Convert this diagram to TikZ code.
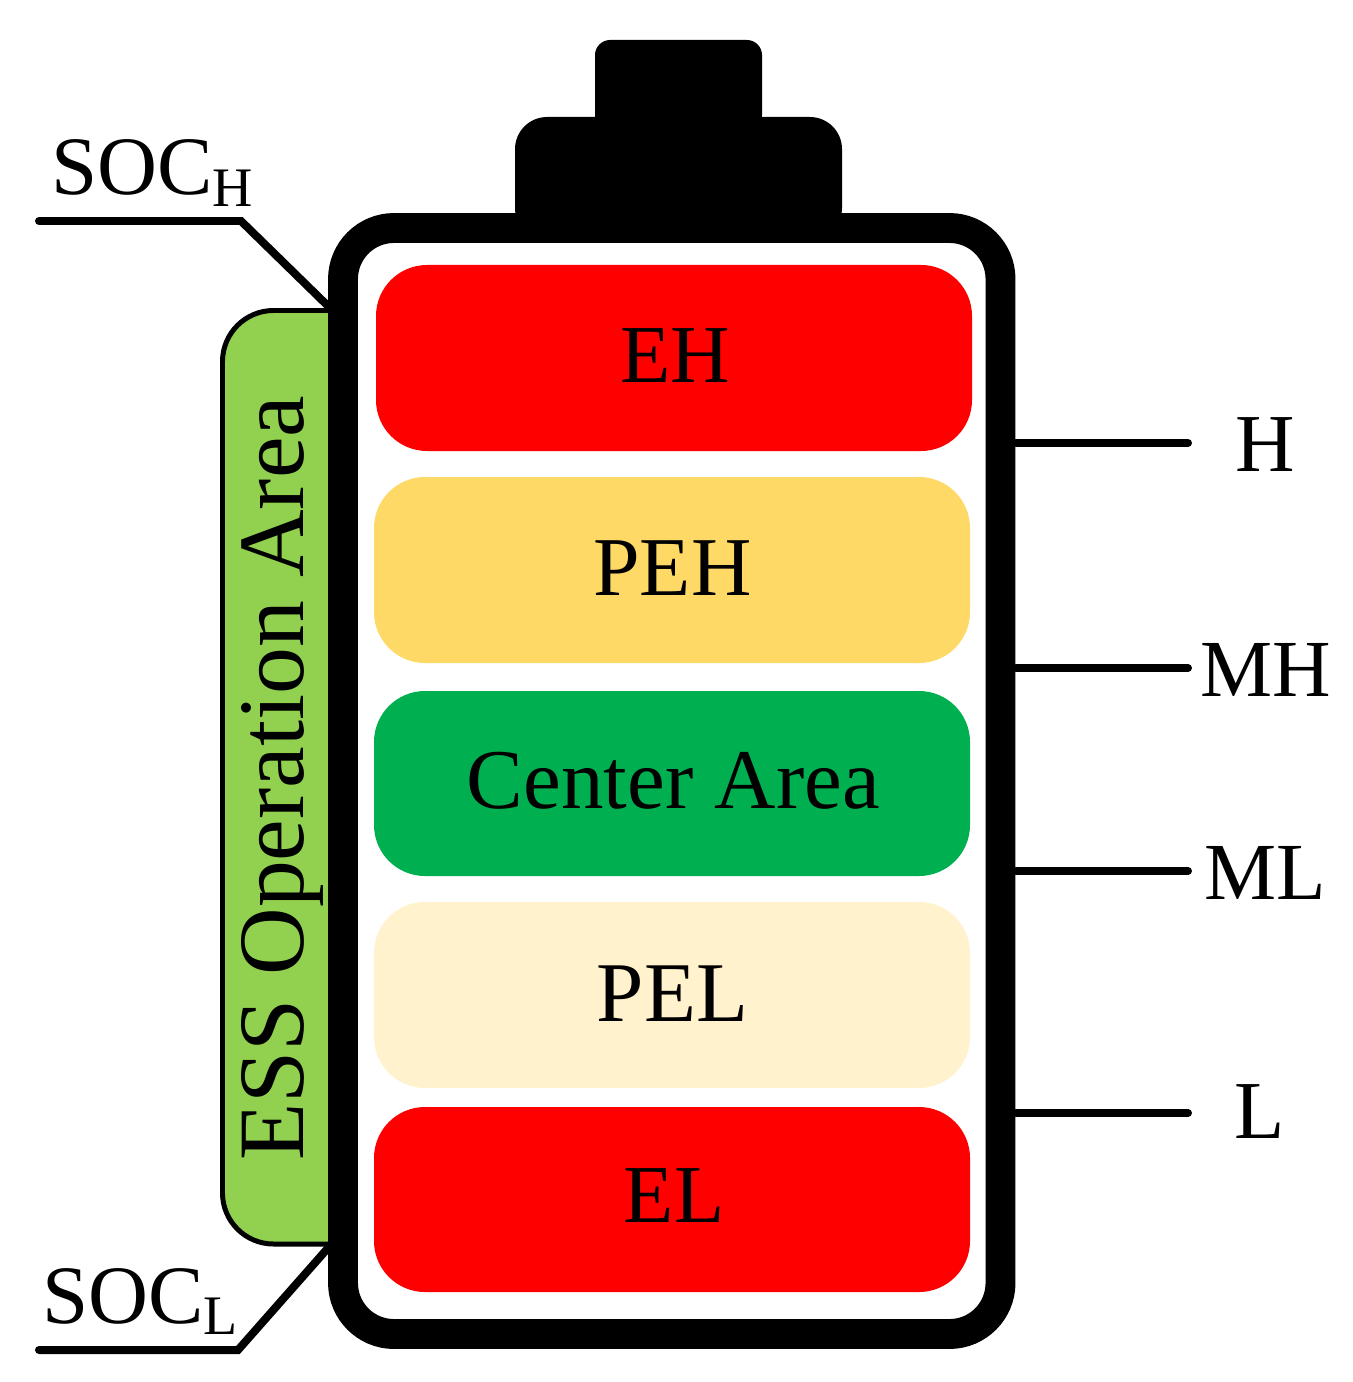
\documentclass[tikz,border=0pt]{standalone}
\usepackage{fontspec}
\setmainfont{Liberation Serif}
\definecolor{cRed}{HTML}{FF0000}
\definecolor{cPeh}{HTML}{FFD966}
\definecolor{cGreen}{HTML}{00B050}
\definecolor{cPel}{HTML}{FFF2CC}
\definecolor{cOp}{HTML}{92D050}
\tikzset{x=0.0264583cm,y=-0.0264583cm,
 zone/.style={draw=none,rounded corners=1.35cm},
 big/.style={font=\fontsize{#1}{#1}\selectfont,inner sep=0pt,text=black},
 big/.default=61,
 lead/.style={line width=6pt,line cap=round,line join=miter},
 }
\begin{document}
\begin{tikzpicture}
\useasboundingbox (0,0) rectangle (1352,1382);
% terminals
\fill[black,rounded corners=0.4cm] (595,130) -- (595,40) -- (762,40) -- (762,130) -- cycle;
\fill[black,rounded corners=0.85cm] (515,240) -- (515,117) -- (842,117) -- (842,240) -- cycle;
\fill[black] (595,100) rectangle (762,130);
% operation area
\path[draw=black,line width=3.75pt,fill=cOp] (340,310.5) [rounded corners=1.35cm] -- (222.5,310.5) -- (222.5,1244) -- (340,1244);
% body
\draw[line width=22.5pt,draw=black,fill=white,rounded corners=1.35cm] (343,228) rectangle (1000.5,1334);
% zones
\fill[zone,cRed] (376,265) rectangle (972,451);
\fill[zone,cPeh] (374,477) rectangle (970,663);
\fill[zone,cGreen] (374,691) rectangle (970,876);
\fill[zone,cPel] (374,902) rectangle (970,1088);
\fill[zone,cRed] (374,1107) rectangle (970,1292);
\node[big=62] (eh) at (675,356) {EH};
\node[big=63] (peh) at (672.5,568) {PEH};
\node[big=64] (ca) at (673.5,781) {Center Area};
\node[big=64] (pel) at (672.5,994) {PEL};
\node[big=62] (el) at (674,1196) {EL};
\node[big=70.5,rotate=90] (ess) at (282,778) {ESS Operation Area};
% leads
\coordinate (hs) at (1016,443); \coordinate (he) at (1188,443);
\coordinate (ms) at (1016,668); \coordinate (me) at (1188,668);
\coordinate (ls) at (1016,871); \coordinate (le) at (1188,871);
\coordinate (bs) at (1016,1113); \coordinate (be) at (1188,1113);
\draw[lead] (hs) -- (he);
\draw[lead] (ms) -- (me);
\draw[lead] (ls) -- (le);
\draw[lead] (bs) -- (be);
\node[big=62] (h) at (1265.5,445) {H};
\node[big=61] (mh) at (1266,670) {MH};
\node[big=61] (ml) at (1265,873) {ML};
\node[big=62] (l) at (1260,1112) {L};
\coordinate (a1) at (39,221); \coordinate (a2) at (241,221); \coordinate (a3) at (328,306);
\coordinate (b1) at (39,1350); \coordinate (b2) at (238,1350); \coordinate (b3) at (328,1248);
\draw[lead] (a1) -- (a2) -- (a3);
\draw[lead] (b1) -- (b2) -- (b3);
\node[big=62.5,anchor=base west] (soch) at (51,195) {SOC\raisebox{-9pt}{\fontsize{42}{42}\selectfont H}};
\node[big=62.5,anchor=base west] (socl) at (42,1323) {SOC\raisebox{-9pt}{\fontsize{42}{42}\selectfont L}};
\end{tikzpicture}
\end{document}
